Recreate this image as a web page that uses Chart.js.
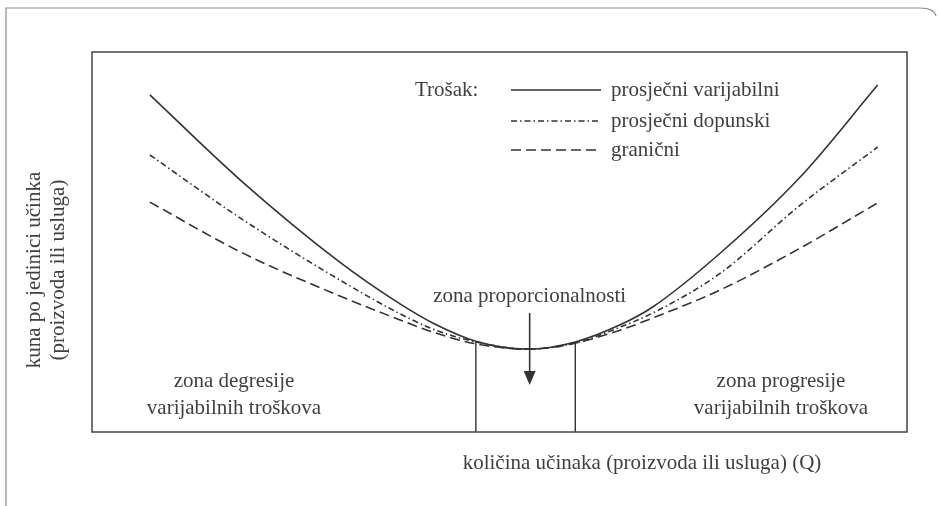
<!DOCTYPE html>
<html lang="hr">
<head>
  <meta charset="UTF-8" />
  <title>Troškovi po jedinici učinka</title>
  <script src="https://cdn.jsdelivr.net/npm/chart.js"></script>
  <style>
    body {
      margin: 0;
      background: #fff;
    }
    #chart {
      display: block;
    }
  </style>
</head>
<body>
  <canvas id="chart" width="939" height="506"></canvas>

  <script>
    // količina učinaka (Q), relative units 0..100
    const qValues = [7.1, 18.2, 30.4, 37.8, 41.8, 47.1, 53.5, 59.3, 64.8, 68.8, 77.1, 86.9, 96.4];
    // kuna po jedinici učinka, relative units 0..100
    const avgVariable = [88.7, 66.3, 44.7, 33.7, 28.7, 23.9, 21.8, 23.7, 28.2, 32.9, 47.1, 67.1, 91.3];
    const avgComplementary = [72.9, 56.3, 40.0, 31.1, 27.1, 23.7, 21.8, 23.4, 27.6, 31.3, 41.8, 59.7, 75.0];
    const marginal = [60.5, 47.4, 35.8, 29.5, 26.3, 23.2, 21.8, 23.4, 26.8, 30.0, 37.4, 48.4, 60.3];

    const seriesNames = ['prosječni varijabilni', 'prosječni dopunski', 'granični'];
    const zoneBounds = [47.1, 59.3];
    const zoneTops = [23.9, 23.7];
    const arrowX = 53.7;
    const arrowFrom = 31.3;
    const arrowTo = 12.4;

    const ink = '#333';
    const textInk = '#404040';
    const font = '21px "Liberation Serif", "DejaVu Serif", serif';
    const dashDot = [6, 3, 1.5, 3];
    const dashed = [10, 5];

    const toPoints = (ys) => qValues.map((q, i) => ({ x: q, y: ys[i] }));

    const curve = (label, ys, dash) => ({
      label: label,
      data: toPoints(ys),
      showLine: true,
      borderColor: ink,
      borderWidth: 1.6,
      borderDash: dash,
      pointRadius: 0,
      cubicInterpolationMode: 'monotone',
      fill: false
    });

    const zoneLine = (i) => ({
      label: 'zone' + i,
      data: [{ x: zoneBounds[i], y: 0 }, { x: zoneBounds[i], y: zoneTops[i] }],
      showLine: true,
      borderColor: ink,
      borderWidth: 1.4,
      pointRadius: 0,
      tension: 0
    });

    // box, frame, texts, legend and arrow
    const decorations = {
      id: 'decorations',
      afterDraw(chart) {
        const ctx = chart.ctx;
        const a = chart.chartArea;
        const xs = chart.scales.x;
        const ys = chart.scales.y;
        ctx.save();

        // outer page frame
        ctx.strokeStyle = '#8a8a8a';
        ctx.lineWidth = 1.2;
        ctx.beginPath();
        ctx.moveTo(6, 506);
        ctx.lineTo(6, 8);
        ctx.lineTo(920, 8);
        ctx.quadraticCurveTo(934, 8, 936, 16);
        ctx.stroke();

        // plot box
        ctx.strokeStyle = '#444';
        ctx.lineWidth = 1.5;
        ctx.strokeRect(a.left, a.top, a.right - a.left, a.bottom - a.top);

        ctx.fillStyle = textInk;
        ctx.font = font;
        ctx.textBaseline = 'middle';

        // legend
        ctx.textAlign = 'left';
        ctx.fillText('Trošak:', 415, 90);
        const rows = [90, 121, 150];
        const dashes = [[], dashDot, dashed];
        rows.forEach((y, i) => {
          ctx.strokeStyle = ink;
          ctx.lineWidth = 1.4;
          ctx.setLineDash(dashes[i]);
          ctx.beginPath();
          ctx.moveTo(511, y);
          ctx.lineTo(601, y);
          ctx.stroke();
          ctx.setLineDash([]);
          ctx.fillText(seriesNames[i], 611, y);
        });

        // zone labels
        ctx.textAlign = 'center';
        ctx.fillText('zona proporcionalnosti', xs.getPixelForValue(arrowX), 296);
        ctx.fillText('zona degresije', 234, 381);
        ctx.fillText('varijabilnih troškova', 234, 408);
        ctx.fillText('zona progresije', 781, 381);
        ctx.fillText('varijabilnih troškova', 781, 408);

        // axis titles
        ctx.fillText('količina učinaka (proizvoda ili usluga) (Q)', 642, 463);
        ctx.save();
        ctx.translate(34, 270);
        ctx.rotate(-Math.PI / 2);
        ctx.fillText('kuna po jedinici učinka', 0, 0);
        ctx.fillText('(proizvoda ili usluga)', 0, 24);
        ctx.restore();

        // arrow
        const ax = xs.getPixelForValue(arrowX);
        const ay0 = ys.getPixelForValue(arrowFrom);
        const ay1 = ys.getPixelForValue(arrowTo);
        ctx.strokeStyle = ink;
        ctx.lineWidth = 1.6;
        ctx.beginPath();
        ctx.moveTo(ax, ay0);
        ctx.lineTo(ax, ay1 - 12);
        ctx.stroke();
        ctx.fillStyle = ink;
        ctx.beginPath();
        ctx.moveTo(ax - 6, ay1 - 14);
        ctx.lineTo(ax + 6, ay1 - 14);
        ctx.lineTo(ax, ay1);
        ctx.closePath();
        ctx.fill();

        ctx.restore();
      }
    };

    new Chart(document.getElementById('chart').getContext('2d'), {
      type: 'scatter',
      data: {
        datasets: [
          curve(seriesNames[0], avgVariable, []),
          curve(seriesNames[1], avgComplementary, dashDot),
          curve(seriesNames[2], marginal, dashed),
          zoneLine(0),
          zoneLine(1)
        ]
      },
      options: {
        responsive: false,
        animation: false,
        layout: { padding: { left: 92, right: 32, top: 52, bottom: 74 } },
        scales: {
          x: { type: 'linear', min: 0, max: 100, display: false },
          y: { type: 'linear', min: 0, max: 100, display: false }
        },
        plugins: {
          legend: { display: false },
          tooltip: { enabled: false }
        }
      },
      plugins: [decorations]
    });
  </script>
</body>
</html>
